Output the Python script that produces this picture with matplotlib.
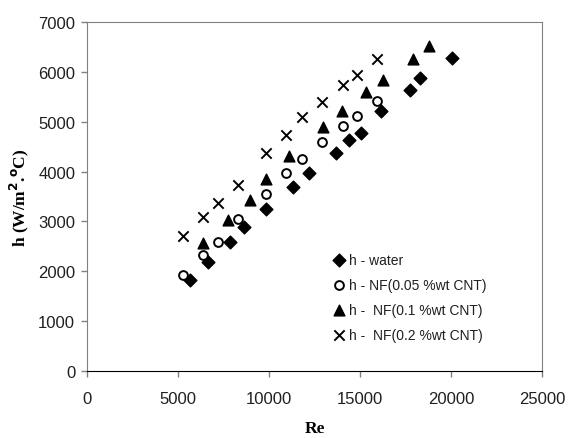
import matplotlib.pyplot as plt
from matplotlib import rc

rc('font', family='Liberation Sans', size=10)

# Re / h values
re_water = [5670, 6640, 7850, 8650, 9820, 11340, 12200, 13660, 14390, 15050, 16150, 17740, 18290, 20060]
h_water = [1830, 2190, 2590, 2880, 3240, 3700, 3980, 4370, 4640, 4770, 5220, 5640, 5880, 6285]

re_nf005 = [5250, 6400, 7190, 8290, 9820, 10920, 11830, 12930, 14080, 14820, 15910]
h_nf005 = [1920, 2330, 2590, 3055, 3545, 3980, 4245, 4595, 4905, 5110, 5420]

re_nf01 = [6400, 7740, 8960, 9820, 11100, 12990, 14030, 15330, 16280, 17920, 18780]
h_nf01 = [2570, 3035, 3425, 3845, 4310, 4895, 5210, 5595, 5845, 6250, 6510]

re_nf02 = [5250, 6400, 7190, 8290, 9820, 10920, 11830, 12930, 14080, 14820, 15910]
h_nf02 = [2700, 3090, 3370, 3735, 4375, 4740, 5095, 5395, 5745, 5945, 6250]

labels = ['h - water', 'h - NF(0.05 %wt CNT)', 'h -  NF(0.1 %wt CNT)', 'h -  NF(0.2 %wt CNT)']

fig = plt.figure(figsize=(5.68, 4.39), dpi=100)
ax = fig.add_axes([87/568, 1-372/439, (542-87)/568, (372-23)/439])

ax.scatter(re_water, h_water, marker='D', s=42, color='black', label=labels[0], zorder=3)
ax.scatter(re_nf005, h_nf005, marker='o', s=40, facecolors='white', edgecolors='black', linewidths=1.4, label=labels[1], zorder=3)
ax.scatter(re_nf01, h_nf01, marker='^', s=60, color='black', label=labels[2], zorder=3)
ax.scatter(re_nf02, h_nf02, marker='x', s=55, color='black', linewidths=1.4, label=labels[3], zorder=3)

ax.set_xlim(0, 25000)
ax.set_ylim(0, 7000)
ax.set_xticks(range(0, 25001, 5000))
ax.set_yticks(range(0, 7001, 1000))
ax.tick_params(direction='out', length=4.5, width=1, colors='#808080', labelcolor='#202020', labelsize=12)
ax.tick_params(axis='x', pad=10)
ax.tick_params(axis='y', pad=4)
for s in ['left', 'top', 'right']:
    ax.spines[s].set_color('#808080')
ax.spines['bottom'].set_color('black')

ax.set_xlabel('Re', family='Liberation Serif', fontweight='bold', fontsize=12.5, labelpad=10)
ax.set_ylabel('h (W/m$^{\\mathbf{2}}$.$^{\\mathbf{o}}$C)', family='Liberation Serif', fontweight='bold', fontsize=12.5, labelpad=5)

leg = ax.legend(loc='upper left', bbox_to_anchor=(0.537, 0.338), frameon=False, handletextpad=0.2,
                handlelength=1.05, labelspacing=0.78, fontsize=10, borderaxespad=0, borderpad=0)
for t in leg.get_texts():
    t.set_color('#202020')

plt.savefig('out.png', dpi=100)
